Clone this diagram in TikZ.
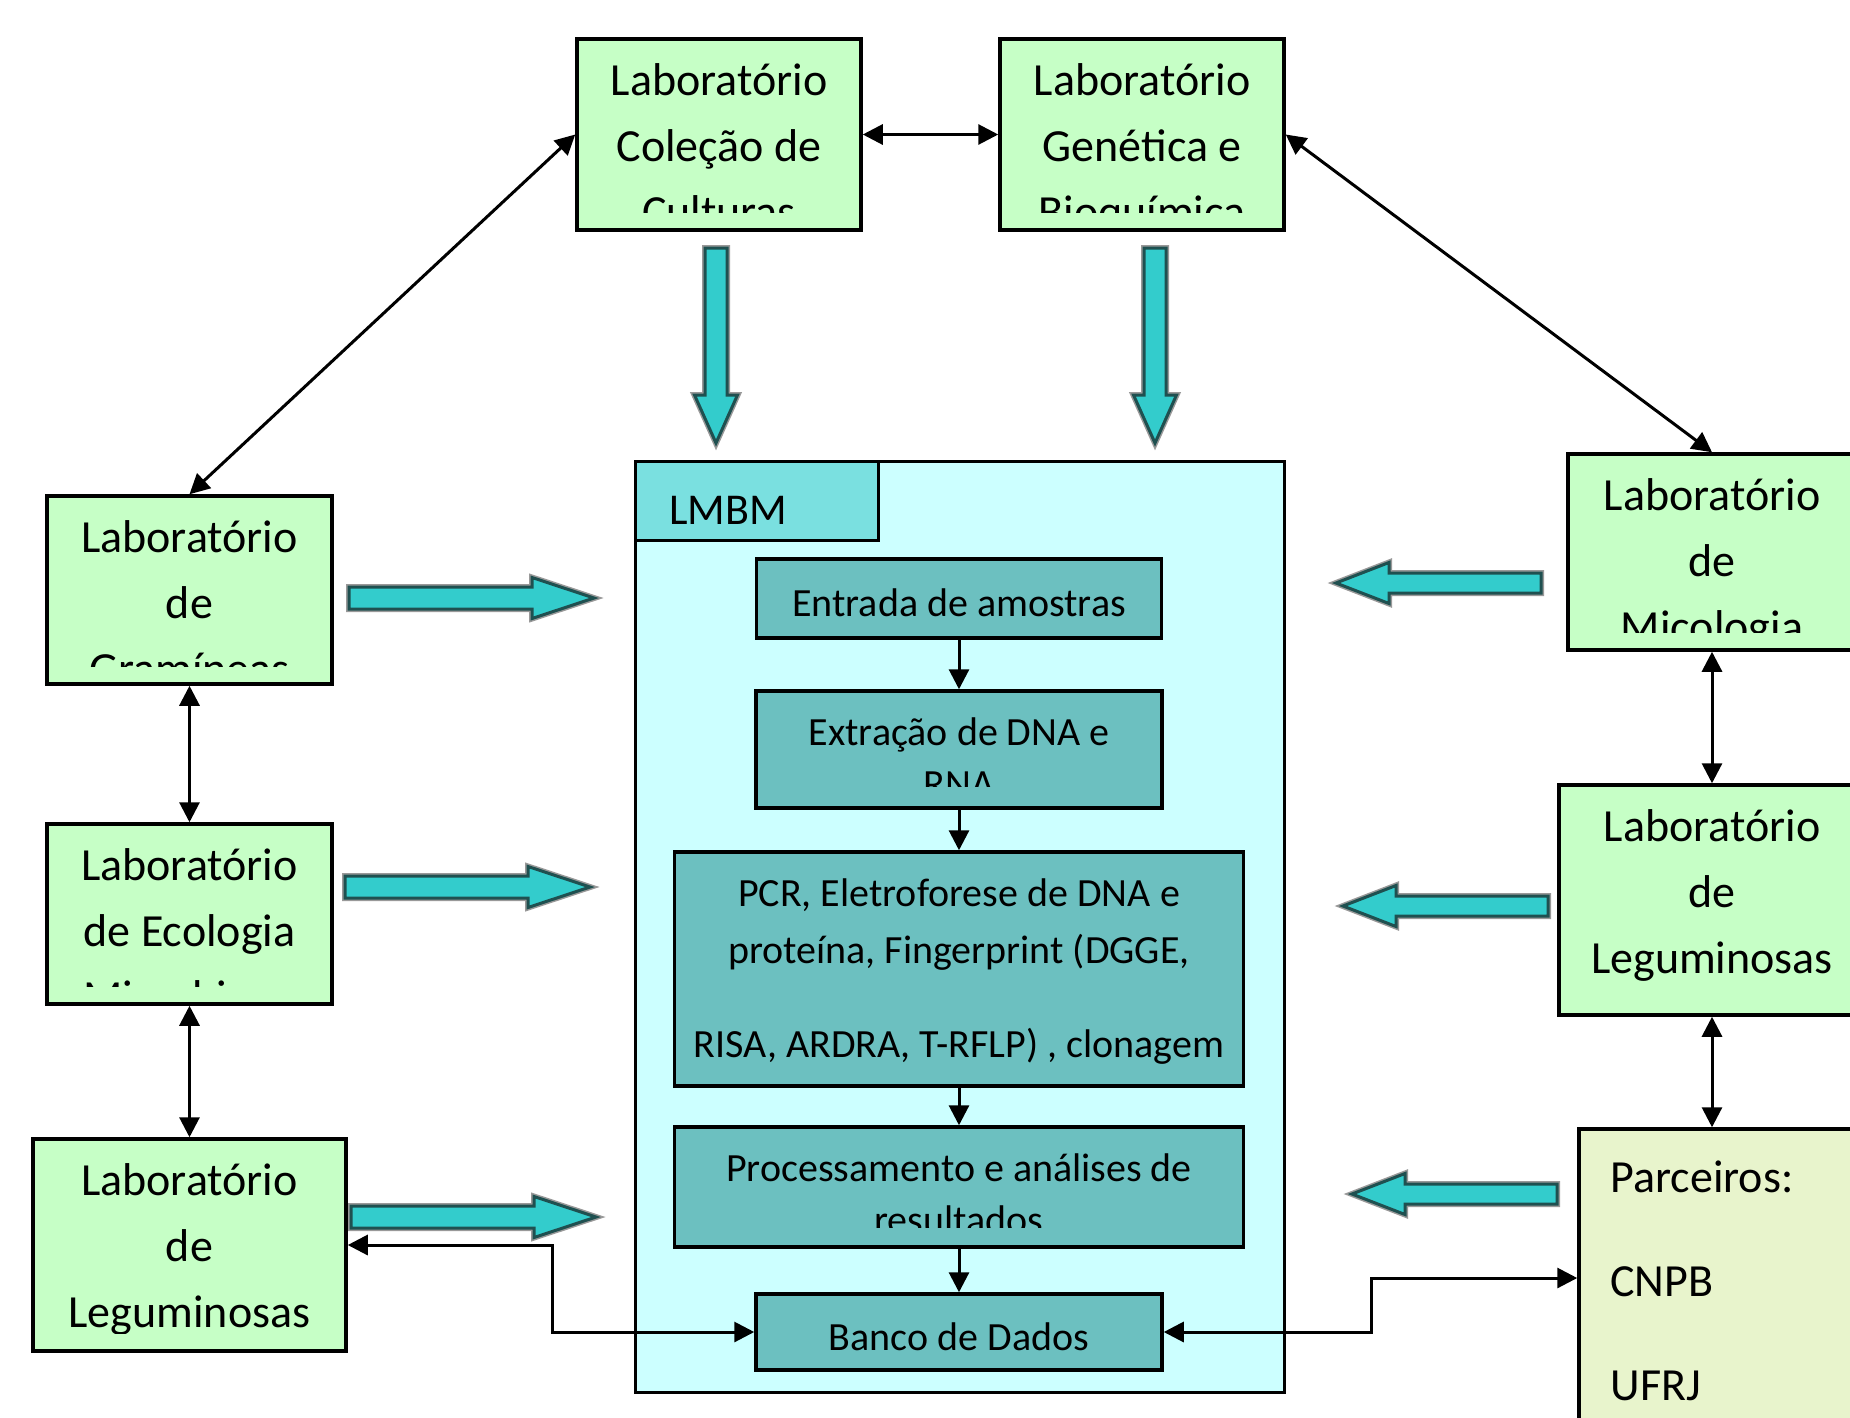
\documentclass[tikz,border=0pt]{standalone}
\usepackage{fontspec}
\setmainfont{Carlito}
\usetikzlibrary{arrows.meta}

\definecolor{labfill}{RGB}{198,255,198}
\definecolor{parcfill}{RGB}{232,244,204}
\definecolor{lmbmfill}{RGB}{204,255,255}
\definecolor{tabfill}{RGB}{122,224,224}
\definecolor{stepfill}{RGB}{108,192,192}
\definecolor{fatfill}{RGB}{51,204,204}
\definecolor{fatedge}{RGB}{31,80,80}

\tikzset{
  labbox/.style={draw, line width=3.5pt, fill=labfill, inner sep=0pt},
  parcbox/.style={draw, line width=3.5pt, fill=parcfill, inner sep=0pt},
  lmbmbox/.style={draw, line width=3pt, fill=lmbmfill, inner sep=0pt},
  tabbox/.style={draw, line width=3pt, fill=tabfill},
  stepbox/.style={draw, line width=3.5pt, fill=stepfill, inner sep=0pt, font=\fontsize{40}{52}\selectfont},
  labtext/.style={align=center, inner sep=0pt, font=\fontsize{46}{66}\selectfont},
  steptext/.style={align=center, inner sep=0pt, font=\fontsize{40}{52}\selectfont},
  link/.style={<->, line width=3pt},
  flow/.style={->, line width=3pt},
  fatline/.style={fill=fatfill, draw=fatedge, line width=3pt, preaction={draw=black!40, line width=6pt}},
  pics/fatarrow/.style args={#1/#2/#3/#4}{code={
    \draw[fatline] (0,0) -- (-#4,#3/2) -- (-#4,#2/2) -- (-#1,#2/2)
      -- (-#1,-#2/2) -- (-#4,-#2/2) -- (-#4,-#3/2) -- cycle;}}
}

% text of a box, cut off a little above its lower edge
\newcommand{\clippedtext}[5]{%
  \begin{scope}
    \clip ([xshift=2pt,yshift=-2pt]#1.north west) rectangle ([xshift=-2pt,yshift=#4]#1.south east);
    \node[#2, anchor=north] (#1text) at ([yshift=-#3]#1.north) {#5};
  \end{scope}}

\begin{document}
\begin{tikzpicture}[x=1pt, y=-1pt, >={Triangle[length=20pt,width=20pt]}]
\useasboundingbox (0,0) rectangle (1850,1417);

% laboratorios
\node[labbox, minimum width=284, minimum height=191] (colecao) at (719,134.5) {};
\node[labbox, minimum width=284, minimum height=191] (genetica) at (1142,134.5) {};
\node[labbox, minimum width=285, minimum height=188] (graminea) at (189.5,590) {};
\node[labbox, minimum width=285, minimum height=180] (ecologia) at (189.5,914) {};
\node[labbox, minimum width=313, minimum height=212] (legesq) at (189.5,1245) {};
\node[labbox, minimum width=288, minimum height=196] (micologia) at (1712,552) {};
\node[labbox, minimum width=306, minimum height=230] (legdir) at (1712,900) {};
\node[parcbox, minimum width=280, minimum height=298] (parceiros) at (1719,1278) {};

\clippedtext{colecao}{labtext}{26pt}{19pt}{Laboratório\\Coleção de\\Culturas}
\clippedtext{genetica}{labtext}{26pt}{19pt}{Laboratório\\Genética e\\Bioquímica}
\clippedtext{graminea}{labtext}{26pt}{19pt}{Laboratório\\de\\Gramíneas}
\clippedtext{ecologia}{labtext}{26pt}{19pt}{Laboratório\\de Ecologia\\Microbiana}
\clippedtext{legesq}{labtext}{26pt}{19pt}{Laboratório\\de\\Leguminosas}
\clippedtext{micologia}{labtext}{26pt}{19pt}{Laboratório\\de\\Micologia}
\clippedtext{legdir}{labtext}{26pt}{19pt}{Laboratório\\de\\Leguminosas}
\node[labtext, align=left, anchor=north west, font=\fontsize{46}{104}\selectfont] (parctext)
  at ([xshift=33pt,yshift=-33pt]parceiros.north west) {Parceiros:\\CNPB\\UFRJ};

% LMBM
\node[lmbmbox, minimum width=649, minimum height=931] (lmbm) at (959.5,926.5) {};
\node[tabbox, anchor=north west, minimum height=79, text width=175, inner xsep=34, inner ysep=0pt,
  text height=48pt, align=left, font=\fontsize{44}{50}\selectfont] (tab) at (lmbm.north west) {LMBM};

\node[stepbox, minimum width=405, minimum height=79, text height=36pt] (entrada) at (959,598.5) {Entrada de amostras};
\node[stepbox, minimum width=406, minimum height=117] (extracao) at (959,749.5) {};
\node[stepbox, minimum width=569, minimum height=234] (pcr) at (959,969) {};
\node[stepbox, minimum width=569, minimum height=120] (process) at (959,1187) {};
\node[stepbox, minimum width=406, minimum height=76, text height=38pt] (banco) at (959,1332) {Banco de Dados};

\clippedtext{extracao}{steptext}{28pt}{23pt}{Extração de DNA e\\RNA}
\clippedtext{process}{steptext}{28pt}{21pt}{Processamento e análises de\\resultados}
\node[steptext, font=\fontsize{40}{57}\selectfont, anchor=north] (pcrtext) at ([yshift=-28pt]pcr.north)
  {PCR, Eletroforese de DNA e\\proteína, Fingerprint (DGGE,\\[37pt]RISA, ARDRA, T-RFLP) , clonagem};

\draw[flow] (entrada) -- (extracao);
\draw[flow] (extracao) -- (pcr);
\draw[flow] (pcr) -- (process);
\draw[flow] (process) -- (banco);

% ligacoes entre laboratorios
\draw[link] (colecao) -- (genetica);
\draw[link] (colecao.west) -- (graminea.north);
\draw[link] (genetica.east) -- (micologia.north);
\draw[link] (graminea) -- (ecologia);
\draw[link] (ecologia) -- (legesq);
\draw[link] (micologia) -- (legdir);
\draw[link] (legdir.south) -- (legdir.south |- parceiros.north);
\draw[link] (legesq.east) -- ++(205,0) |- (banco.west);
\draw[link] (banco.east) -- ++(208,0) |- (parceiros.west);

% setas largas
\pic[rotate=-90] at (716,443) {fatarrow=195/22/43/48};
\pic[rotate=-90] at (1155,443) {fatarrow=195/22/43/48};
\pic at (594,598) {fatarrow=245/22/41/62};
\pic at (590,887) {fatarrow=245/22/41/62};
\pic at (596,1217) {fatarrow=245/22/41/62};
\pic[rotate=180] at (1336,583) {fatarrow=205/20/41/53};
\pic[rotate=180] at (1343,906) {fatarrow=205/20/41/53};
\pic[rotate=180] at (1352,1194) {fatarrow=205/20/41/53};

\end{tikzpicture}
\end{document}
